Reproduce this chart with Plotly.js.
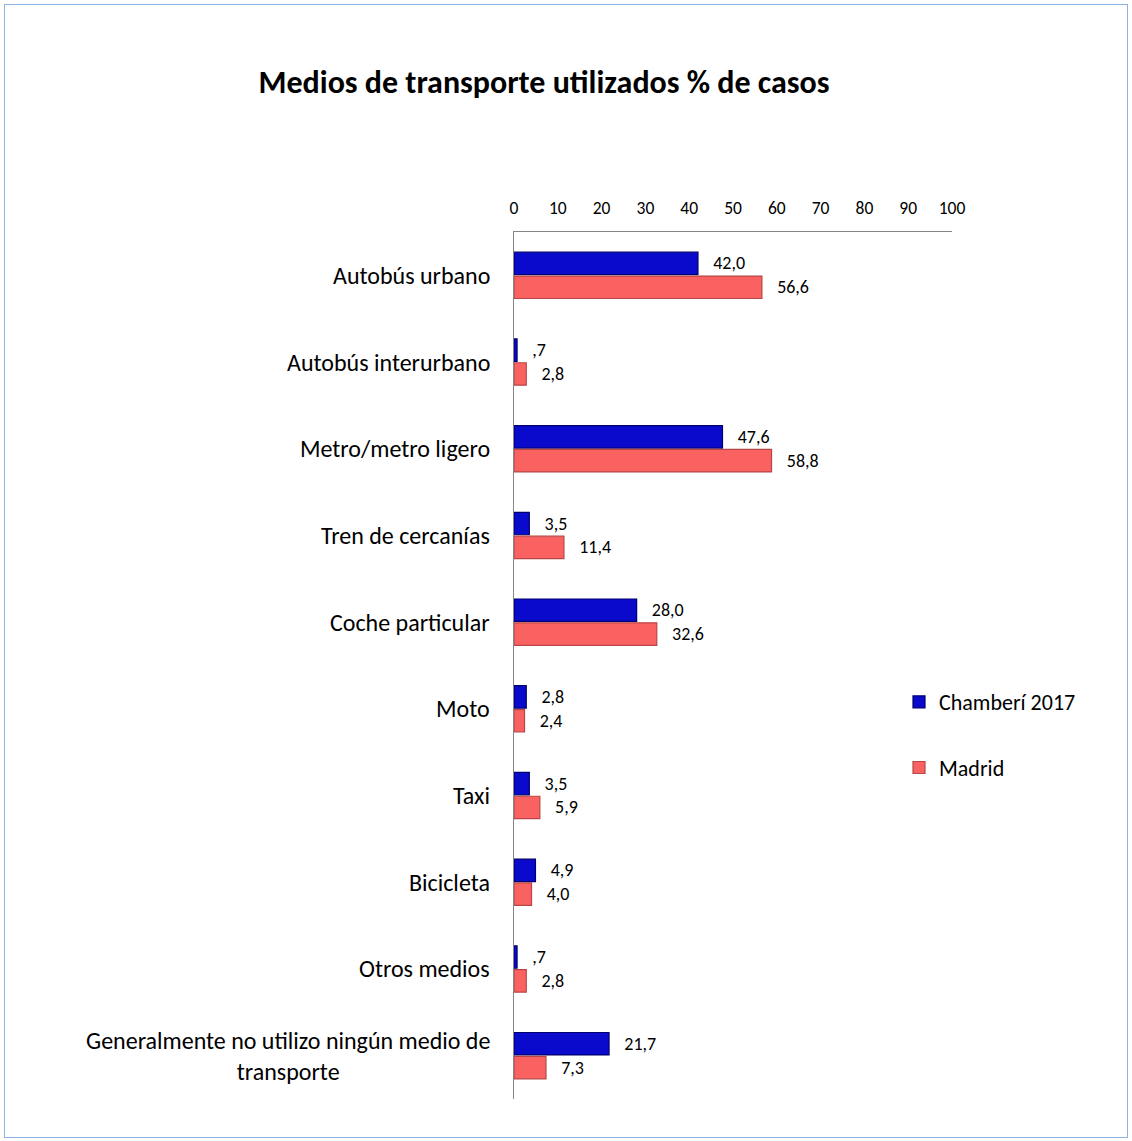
<!DOCTYPE html>
<html>
<head>
<meta charset="utf-8">
<script src="https://cdn.plot.ly/plotly-3.0.1.min.js"></script>
<style>
  html, body { margin: 0; padding: 0; background: #fff; }
  #wrap { position: relative; width: 1132px; height: 1141px; }
  #chart { width: 1132px; height: 1141px; }
  #frame { position: absolute; left: 4px; top: 4px; width: 1122px; height: 1132px;
           border: 1.5px solid #8DB3E2; pointer-events: none; }
</style>
</head>
<body>
<div id="wrap"><div id="chart"></div><div id="frame"></div></div>
<script>
const categories = [
  "Autobús urbano",
  "Autobús interurbano",
  "Metro/metro ligero",
  "Tren de cercanías",
  "Coche particular",
  "Moto",
  "Taxi",
  "Bicicleta",
  "Otros medios",
  "Generalmente no utilizo ningún medio de<br>transporte"
];
const seriesNames = ["Chamberí 2017", "Madrid"];
const chamberi = [42.0, 0.7, 47.6, 3.5, 28.0, 2.8, 3.5, 4.9, 0.7, 21.7];
const madrid   = [56.6, 2.8, 58.8, 11.4, 32.6, 2.4, 5.9, 4.0, 2.8, 7.3];
const xTicks = [0, 10, 20, 30, 40, 50, 60, 70, 80, 90, 100];

function fmt(v) {
  let s = v.toFixed(1).replace('.', ',');
  if (s.startsWith('0,')) s = s.slice(1);
  return s;
}

const FONT = "Carlito, Calibri, Lato, 'Open Sans', sans-serif";
const pad = "\u00a0\u00a0\u00a0";

const common = {
  type: 'bar', orientation: 'h', y: categories,
  textposition: 'outside', cliponaxis: false, constraintext: 'none',
  textfont: { family: FONT, size: 18, color: '#000' },
  hoverinfo: 'x+name'
};

const traces = [
  Object.assign({}, common, {
    name: seriesNames[0], x: chamberi,
    text: chamberi.map(v => pad + fmt(v)), texttemplate: '%{text}',
    legendgroup: 'a',
    marker: { color: '#0A0ACC', line: { color: '#00006E', width: 1.2 } }
  }),
  Object.assign({}, common, {
    name: seriesNames[1], x: madrid,
    text: madrid.map(v => pad + fmt(v)), texttemplate: '%{text}',
    legendgroup: 'b',
    marker: { color: '#FA6262', line: { color: '#B84646', width: 1.2 } }
  })
];

const annotations = categories.map(c => ({
  xref: 'paper', yref: 'y', x: 0, y: c, xanchor: 'right', yanchor: 'middle',
  xshift: -22, text: c, showarrow: false, align: 'center',
  font: { family: FONT, size: 24, color: '#000' }
}));

const layout = {
  width: 1132, height: 1141,
  margin: { l: 514, r: 180, t: 232, b: 42 },
  paper_bgcolor: '#fff', plot_bgcolor: '#fff',
  title: {
    text: '<b>Medios de transporte utilizados % de casos</b>',
    x: 0.4806, xanchor: 'center', xref: 'container',
    y: 1 - 82 / 1141, yanchor: 'middle', yref: 'container',
    font: { family: FONT, size: 32, color: '#000' }
  },
  barmode: 'group', bargap: 0.45, bargroupgap: 0.06,
  xaxis: {
    side: 'top', range: [0, 100], tickvals: xTicks, ticktext: xTicks.map(String),
    showgrid: false, zeroline: false, showline: true, linecolor: '#868686', linewidth: 1,
    ticks: '', tickfont: { family: FONT, size: 17.5, color: '#000' }, ticklabelstandoff: 10,
    fixedrange: true
  },
  yaxis: {
    type: 'category', autorange: 'reversed', showticklabels: false,
    showgrid: false, zeroline: false, showline: true, linecolor: '#868686', linewidth: 1,
    ticks: '', fixedrange: true
  },
  showlegend: true,
  legend: {
    x: 0.879, xanchor: 'left', y: 0.482, yanchor: 'top',
    traceorder: 'grouped', tracegroupgap: 34,
    font: { family: FONT, size: 22, color: '#000' },
    bgcolor: 'rgba(0,0,0,0)'
  },
  annotations: annotations
};

Plotly.newPlot('chart', traces, layout, { displayModeBar: false, staticPlot: true });
</script>
</body>
</html>
